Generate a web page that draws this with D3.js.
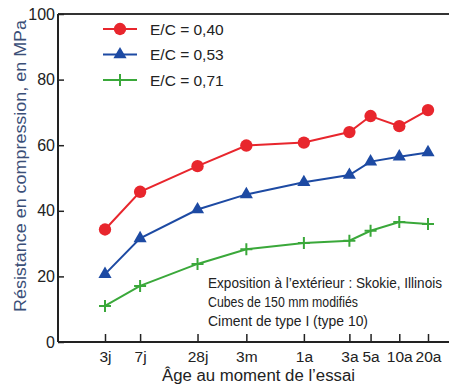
<!DOCTYPE html>
<html><head><meta charset="utf-8">
<script src="https://cdn.jsdelivr.net/npm/d3@7"></script>
<style>body{margin:0;background:#fff}svg{display:block}</style>
</head><body>
<svg id="c" width="449" height="385"></svg>
<script>
const ageDays = [3, 7, 28, 91, 365, 1095, 1826, 3652, 7305];
const ageLabels = ["3j", "7j", "28j", "3m", "1a", "3a", "5a", "10a", "20a"];
const ec040 = [34.3, 45.8, 53.6, 59.9, 60.8, 64.0, 68.9, 65.8, 70.7];
const ec053 = [20.7, 31.6, 40.4, 45.0, 48.7, 50.9, 55.0, 56.5, 57.8];
const ec071 = [11.0, 17.1, 23.8, 28.3, 30.2, 30.9, 33.9, 36.6, 36.0];
const seriesNames = ["E/C = 0,40", "E/C = 0,53", "E/C = 0,71"];
const yTicks = [0, 20, 40, 60, 80, 100];
const notes = ["Exposition à l\u2019extérieur : Skokie, Illinois", "Cubes de 150 mm modifiés", "Ciment de type I (type 10)"];

const svg = d3.select("#c");
const font = "'Liberation Sans', Arial, sans-serif";
const L = 58, R = 449, T = 14, B = 342;
const x = d3.scaleLog().domain([3, 7305]).range([105, 428]);
const y = d3.scaleLinear().domain([0, 100]).range([B, T]);

const series = [
  {name: seriesNames[0], vals: ec040, color: "#e8262d", sym: d3.symbolCircle, size: 120},
  {name: seriesNames[1], vals: ec053, color: "#1d4aa3", sym: d3.symbolTriangle, size: 75},
  {name: seriesNames[2], vals: ec071, color: "#3aa83a", sym: d3.symbolCross, size: 0}
];

// frame
svg.append("line").attr("x1", L).attr("x2", R).attr("y1", T).attr("y2", T).attr("stroke", "#333").attr("stroke-width", 2);

// y axis
const ya = svg.append("g").attr("transform", `translate(${L},0)`)
  .call(d3.axisRight(y).tickValues(yTicks).tickSize(6).tickFormat(d3.format("d")));
ya.select(".domain").attr("stroke", "#222").attr("stroke-width", 2).attr("d", `M0,${T}V${B}`);
ya.selectAll(".tick line").attr("stroke", "#222").attr("stroke-width", 1.5);
ya.selectAll(".tick text").attr("x", -3).attr("text-anchor", "end").attr("font-family", font).attr("font-size", 16).attr("fill", "#222");

// x axis
const xa = svg.append("g").attr("transform", `translate(0,${B})`)
  .call(d3.axisTop(x).tickValues(ageDays).tickSize(8).tickFormat((d, i) => ageLabels[i]));
xa.select(".domain").attr("stroke", "#222").attr("stroke-width", 2).attr("d", `M${L},0H${R}`);
xa.selectAll(".tick line").attr("stroke", "#222").attr("stroke-width", 1.5);
xa.selectAll(".tick text").attr("y", 19.5).attr("font-family", font).attr("font-size", 15.5).attr("fill", "#222");

// titles
svg.append("text").attr("transform", "translate(26,166) rotate(-90)").attr("text-anchor", "middle")
  .attr("font-family", font).attr("font-size", 16).attr("fill", "#3b4f78")
  .attr("textLength", 292).attr("lengthAdjust", "spacingAndGlyphs").text("Résistance en compression, en MPa");
svg.append("text").attr("x", 258.5).attr("y", 381).attr("text-anchor", "middle")
  .attr("font-family", font).attr("font-size", 16).attr("fill", "#222")
  .attr("textLength", 193).attr("lengthAdjust", "spacingAndGlyphs").text("Âge au moment de l\u2019essai");

// series
const line = d3.line().x((d, i) => x(ageDays[i])).y(d => y(d));
function marker(g, s, cx, cy) {
  if (s.sym === d3.symbolCross) {
    g.append("path").attr("d", `M${cx-6},${cy}H${cx+6}M${cx},${cy-6}V${cy+6}`).attr("stroke", s.color).attr("stroke-width", 2);
  } else {
    g.append("path").attr("transform", `translate(${cx},${cy})`).attr("d", d3.symbol().type(s.sym).size(s.size)()).attr("fill", s.color);
  }
}
series.forEach(s => {
  svg.append("path").datum(s.vals).attr("d", line).attr("fill", "none").attr("stroke", s.color).attr("stroke-width", 2);
  const g = svg.append("g");
  s.vals.forEach((v, i) => marker(g, s, x(ageDays[i]), y(v)));
});

// legend
series.forEach((s, i) => {
  const ly = 29 + i * 25.5;
  const g = svg.append("g");
  g.append("line").attr("x1", 103).attr("x2", 137).attr("y1", ly).attr("y2", ly).attr("stroke", s.color).attr("stroke-width", 2);
  marker(g, s, 120, ly);
  g.append("text").attr("x", 150).attr("y", ly + 5.5).attr("font-family", font).attr("font-size", 15.5).attr("fill", "#222").text(s.name);
});

// notes
const noteLens = [234, 150, 160];
notes.forEach((t, i) => {
  svg.append("text").attr("x", 208).attr("y", 287.5 + i * 19).attr("font-family", font).attr("font-size", 14).attr("fill", "#222")
    .attr("textLength", noteLens[i]).attr("lengthAdjust", "spacingAndGlyphs").text(t);
});
</script>
</body></html>
